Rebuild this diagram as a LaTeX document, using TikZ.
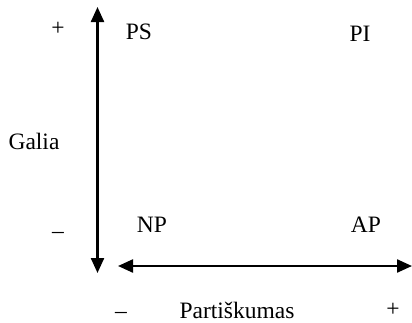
\documentclass[tikz,border=0pt]{standalone}
\usepackage{fontspec}
\setmainfont{Liberation Serif}
\usetikzlibrary{arrows.meta, positioning}

\begin{document}
\begin{tikzpicture}[x=1pt, y=-1pt,
      axisline/.style={line width=2.3pt, {Triangle[length=15pt, width=13pt]}-{Triangle[length=15pt, width=13pt]}},
      lbl/.style={inner sep=0pt, font=\fontsize{23.5}{28}\selectfont},
      ]
      \useasboundingbox (0,0) rectangle (412,322);
      %Nodes
      \coordinate (vtop)    at (97.5,7);
      \coordinate (vbottom) at (97.5,273);
      \coordinate (hleft)   at (118,266);
      \coordinate (hright)  at (412,266);

      \node[lbl] (plustop)    at (58,29)   {+};
      \node[lbl] (ps)         at (139,32)  {PS};
      \node[lbl] (pi)         at (360,34)  {PI};
      \node[lbl] (galia)      at (34,141)  {Galia};
      \node[lbl] (minusleft)  at (58,235)  {\textendash};
      \node[lbl] (np)         at (152,225) {NP};
      \node[lbl] (ap)         at (366,225) {AP};
      \node[lbl] (minusbot)   at (121,315) {\textendash};
      \node[lbl] (partiskumas) at (237,310) {Partiškumas};
      \node[lbl] (plusbot)    at (393,310) {+};

      %Lines
      \draw[axisline] (vtop) -- (vbottom);
      \draw[axisline] (hleft) -- (hright);
\end{tikzpicture}
\end{document}
